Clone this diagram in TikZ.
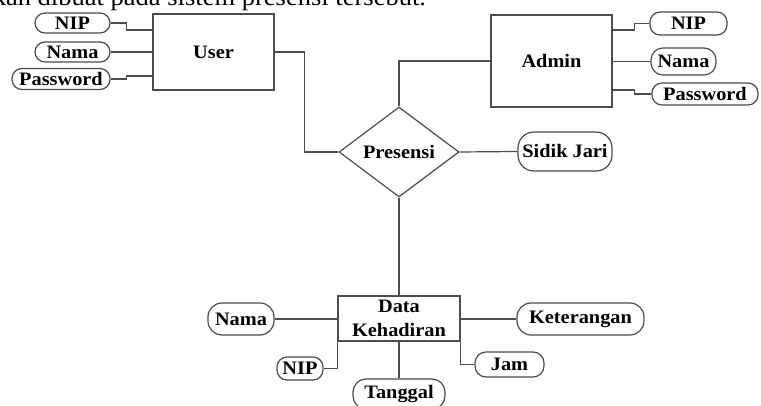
\documentclass[tikz,border=0pt]{standalone}
\usepackage{fontspec}
\setmainfont{Liberation Serif}[FakeStretch=1.07]
\usetikzlibrary{shapes.geometric}

\begin{document}
\begin{tikzpicture}[x=1pt,y=-1pt,line width=1.2pt,
  every node/.style={font=\fontsize{19}{24}\selectfont\bfseries},
  entity/.style={draw=black!70,rectangle,inner sep=0pt},
  relation/.style={draw=black!70,diamond,inner sep=0pt},
  attr/.style={draw=black!70,rounded corners=#1,inner sep=0pt},
  attr/.default=10pt,
  link/.style={draw=black!70}]
  \useasboundingbox (0,0) rectangle (761,406);
  \clip (0,0) rectangle (761,406);
  \node[anchor=base east,font=\fontsize{24.8}{28}\selectfont] (caption) at (430,6) {akan dibuat pada sistem presensi tersebut.};

  \node[entity,minimum width=121pt,minimum height=76pt] (user) at (213.5,52) {User};
  \node[entity,minimum width=121pt,minimum height=92pt] (admin) at (551.5,61) {Admin};
  \node[relation,minimum width=120pt,minimum height=90pt] (presensi) at (399,152) {Presensi};
  \node[entity,minimum width=122pt,minimum height=45pt,align=center] (kehadiran) at (399,318.5) {Data\\Kehadiran};

  \node[attr,minimum width=75pt,minimum height=20pt] (unip) at (72.5,23) {NIP};
  \node[attr,minimum width=75pt,minimum height=20pt] (unama) at (72.5,52) {Nama};
  \node[attr,minimum width=98pt,minimum height=21pt] (upass) at (61,79) {Password};
  \node[attr,minimum width=77pt,minimum height=23pt] (anip) at (688.5,23.5) {NIP};
  \node[attr=12pt,minimum width=65pt,minimum height=27pt] (anama) at (683.5,61.5) {Nama};
  \node[attr,minimum width=106pt,minimum height=22pt] (apass) at (705,94) {Password};
  \node[attr=16pt,minimum width=94pt,minimum height=39pt] (sidik) at (565,151.5) {Sidik Jari};
  \node[attr=14pt,minimum width=66pt,minimum height=32pt] (knama) at (241,319) {Nama};
  \node[attr=14pt,minimum width=127pt,minimum height=32pt] (ket) at (580.5,319) {Keterangan};
  \node[attr,minimum width=46pt,minimum height=23pt] (knip) at (300,368.5) {NIP};
  \node[attr=11pt,minimum width=69pt,minimum height=25pt] (jam) at (509.5,364.5) {Jam};
  \node[attr=13pt,minimum width=92pt,minimum height=30pt] (tgl) at (399,394) {Tanggal};

  \draw[link] (unip.east) -- ++(16,0) |- ([yshift=22pt]user.west);
  \draw[link] (unama.east) -- (unama.east -| user.west);
  \draw[link] (upass.east) -- ++(16,0) |- ([yshift=-24pt]user.west);
  \draw[link] (user.east) -- ++(30,0) |- (presensi.west);
  \draw[link] (admin.west) -| (presensi.north);
  \draw[link] (presensi.east) -- (sidik.west);
  \draw[link] (presensi.south) -- (kehadiran.north);
  \draw[link] ([yshift=31pt]admin.east) -- ++(22,0) |- (anip.west);
  \draw[link] (anama.west -| admin.east) -- (anama.west);
  \draw[link] ([yshift=-29pt]admin.east) -- ++(22,0) |- (apass.west);
  \draw[link] (knama.east) -- (knama.east -| kehadiran.west);
  \draw[link] (ket.west -| kehadiran.east) -- (ket.west);
  \draw[link] (kehadiran.south west) |- (knip.east);
  \draw[link] (kehadiran.south east) |- (jam.west);
  \draw[link] (kehadiran.south) -- (tgl.north);
\end{tikzpicture}
\end{document}
